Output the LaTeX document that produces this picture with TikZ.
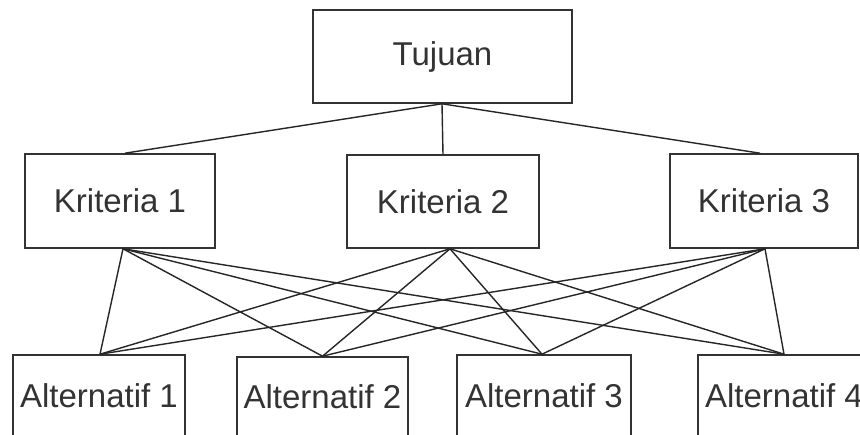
\documentclass[tikz,border=0pt]{standalone}
\usepackage{fontspec}
\setmainfont{Liberation Sans}
\begin{document}
\begin{tikzpicture}[x=1pt,y=-1pt,
  box/.style={draw=black!80,line width=1.6pt,rectangle,inner sep=0pt,font=\fontsize{33}{38}\selectfont,text=black!80},
  link/.style={draw=black!85,line width=1.4pt}]
\useasboundingbox (0,0) rectangle (860,435);
\clip (0,0) rectangle (860,435);
\fill[white] (0,0) rectangle (860,435);
\node[box,minimum width=259pt,minimum height=93pt] (t) at (442.5,56.5) {Tujuan};
\node[box,minimum width=190pt,minimum height=94pt] (k1) at (120,201) {Kriteria 1};
\node[box,minimum width=192pt,minimum height=93pt] (k2) at (443,201.5) {Kriteria 2};
\node[box,minimum width=188pt,minimum height=94pt] (k3) at (764,201) {Kriteria 3};
\node[box,minimum width=172pt,minimum height=81pt] (a1) at (99,395.5) {Alternatif 1};
\node[box,minimum width=171pt,minimum height=79pt] (a2) at (322.5,396.5) {Alternatif 2};
\node[box,minimum width=174pt,minimum height=81pt] (a3) at (544,395.5) {Alternatif 3};
\node[box,minimum width=172pt,minimum height=81pt] (a4) at (784,395.5) {Alternatif 4};
% top level links
\draw[link] ([xshift=-0.5pt]t.south) -- ([xshift=5pt]k1.north);
\draw[link] ([xshift=-0.5pt]t.south) -- (k2.north);
\draw[link] ([xshift=-0.5pt]t.south) -- ([xshift=-4pt]k3.north);
% criteria to alternatives
\foreach \k/\kx in {k1/3pt,k2/7pt,k3/1pt}{
  \foreach \a/\ax in {a1/1pt,a2/0pt,a3/-2pt,a4/0pt}{
    \draw[link] ([xshift=\kx]\k.south) -- ([xshift=\ax]\a.north);
  }
}
\end{tikzpicture}
\end{document}
